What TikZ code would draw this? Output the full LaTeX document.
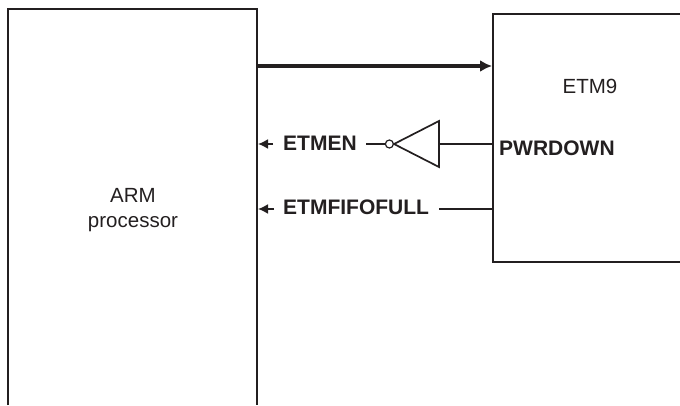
\documentclass[tikz,border=0pt]{standalone}
\usepackage{fontspec}
\setmainfont{Liberation Sans}
\usepackage{tikz}
\usetikzlibrary{arrows.meta,positioning,calc}
\definecolor{linegray}{RGB}{35,31,32}

\tikzset{
    block/.style={draw=none, fill=none, text=linegray, align=center, font=\fontsize{20.5}{25}\selectfont},
    signal/.style={text=linegray, inner sep=0pt, font=\fontsize{21}{24}\selectfont\bfseries},
    wire/.style={draw=linegray, line width=1.7pt},
    wirehead/.style={wire, -{Latex[length=10pt,width=10pt]}}
}

\begin{document}
\begin{tikzpicture}[x=1pt, y=-1pt]
    \useasboundingbox (0,0) rectangle (680,405);
    % open boxes
    \draw[wire, line width=2.5pt] (8,405) -- (8,9) -- (257,9) -- (257,405);
    \draw[wire, line width=2.5pt] (680,14) -- (493,14) -- (493,262) -- (680,262);
    \node[block] (arm) at (133,210) {ARM\\processor};
    \node[block] (etm) at (590,86) {ETM9};
    \node[signal, anchor=west] (pwrdown) at (499,148) {PWRDOWN};
    \node[signal, anchor=west] (etmen) at (283,143) {ETMEN};
    \node[signal, anchor=west] (fifofull) at (283,207) {ETMFIFOFULL};
    % bus
    \coordinate (armbus) at (257,66);
    \coordinate (etmbus) at (492,66);
    \draw[wire, line width=4pt, -{Latex[length=12pt,width=12pt]}] (armbus) -- (etmbus);
    % inverter
    \coordinate (invtop) at (439,121);
    \coordinate (invbot) at (439,167);
    \coordinate (invtip) at (394,144);
    \node[draw=linegray, line width=1.2pt, fill=white, circle, inner sep=0pt, minimum size=8pt, left=0pt of invtip] (bubble) {};
    \draw[wire] (invtop) -- (invbot) -- (invtip) -- cycle;
    \draw[wire] (493,144) -- (invtop |- 493,144);
    \draw[wire] (bubble.west) -- (366,144);
    \draw[wire] (493,209) -- (439,209);
    % short arrows
    \coordinate (enend) at (273,144);
    \coordinate (ffend) at (274,209);
    \draw[wirehead] (enend) -- (258,144);
    \draw[wirehead] (ffend) -- (258,209);
\end{tikzpicture}
\end{document}
